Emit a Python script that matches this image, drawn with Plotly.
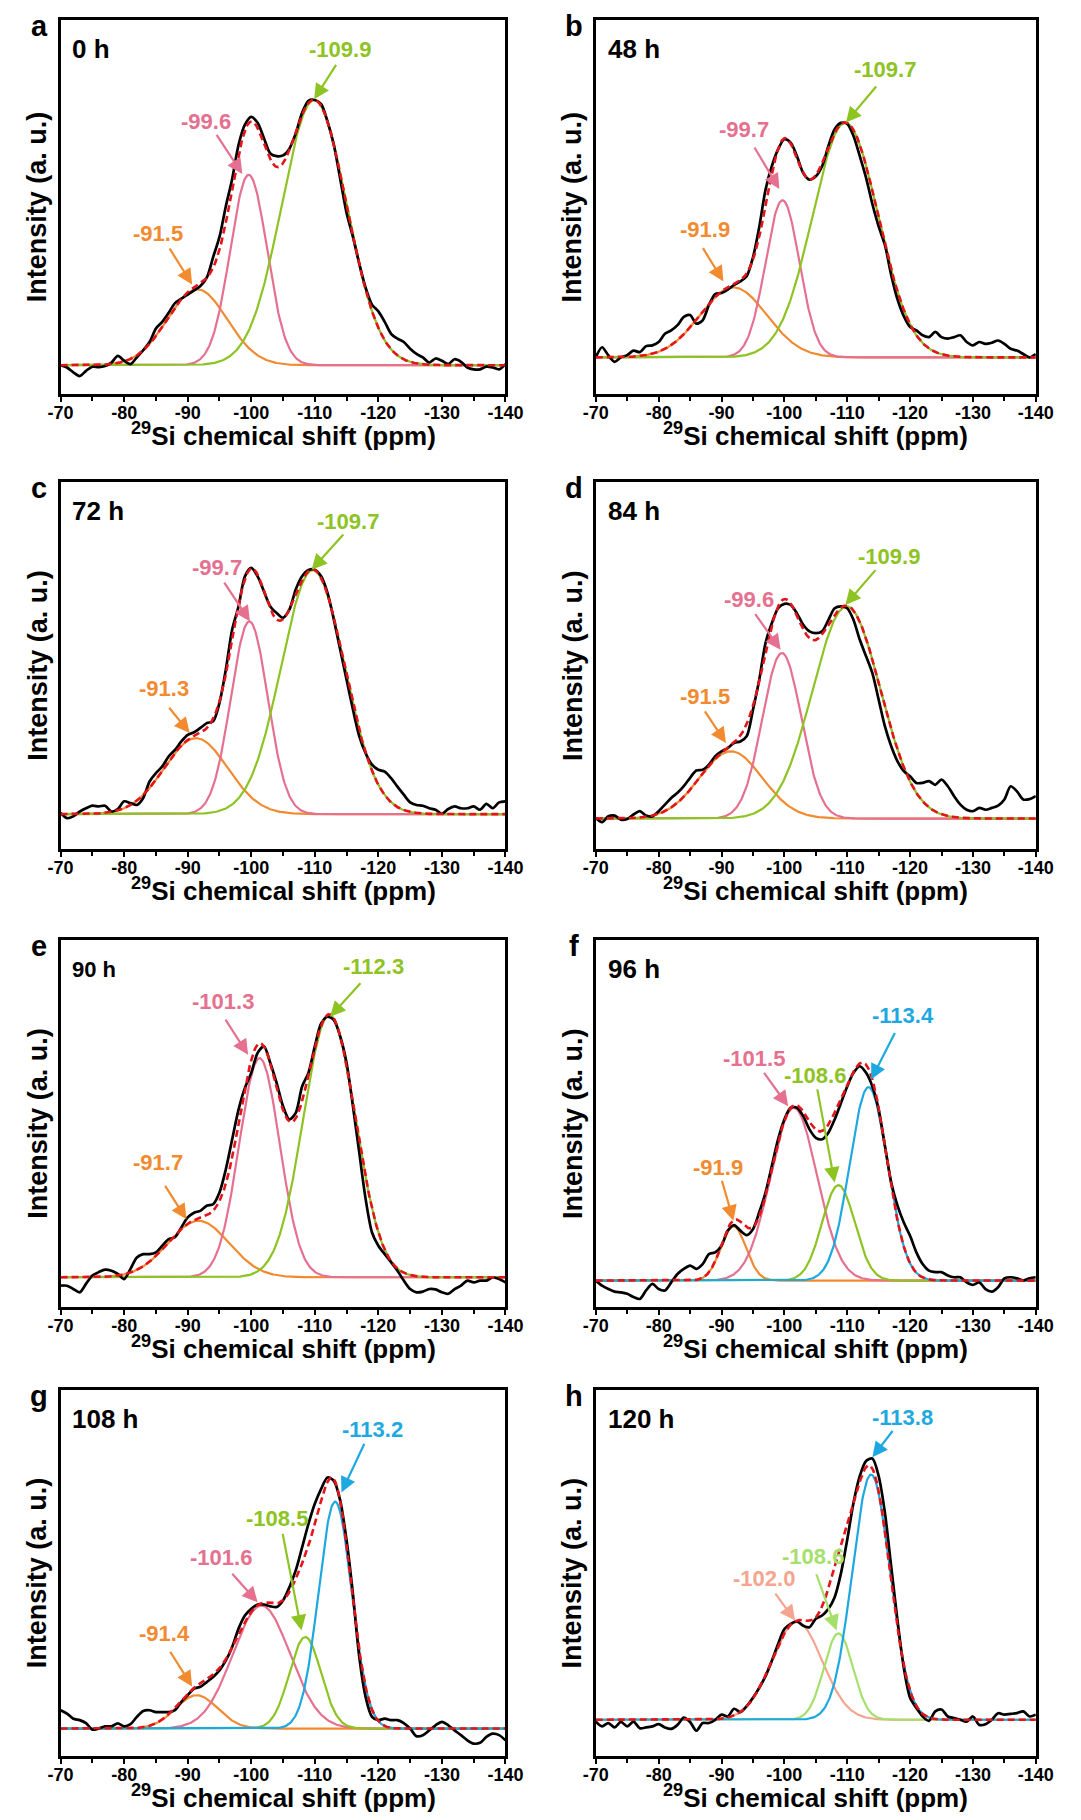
import numpy as np
import plotly.graph_objects as go

# ---------------- data ----------------
PPM = list(range(-70, -141, -1))          # experimental sampling (ppm)
TICK_VALS = [-70, -80, -90, -100, -110, -120, -130, -140]
TICK_TEXT = ["-70", "-80", "-90", "-100", "-110", "-120", "-130", "-140"]
MINOR_TICKS = [-75, -85, -95, -105, -115, -125, -135]

PANEL_LETTERS = ["a", "b", "c", "d", "e", "f", "g", "h"]
TIMES = ["0 h", "48 h", "72 h", "84 h", "90 h", "96 h", "108 h", "120 h"]

EXP_A = [0, -0.6, -1.9, -2.9, -1.5, -0.4, -0.5, -0.2, 0.7, 2.5,
         1.2, 0.3, 2.1, 4.0, 6.2, 9.8, 11.6, 14.0, 16.6, 17.8,
         18.9, 20.0, 21.2, 23.4, 28.9, 34.3, 42.5, 49.8, 58.9, 64.3,
         66.4, 64.8, 60.7, 56.6, 55.9, 56.1, 57.9, 62.0, 67.5, 70.7,
         70.9, 69.8, 65.2, 58.9, 49.8, 40.7, 34.3, 27.1, 20.7, 16.2,
         14.4, 11.6, 8.4, 7.1, 6.2, 4.4, 3.0, 2.1, 0.7, 1.8,
         1.2, 0.3, 1.6, 0.9, -0.6, -1.1, -1.1, -0.4, -0.6, -1.1, 0.3]
EXP_B = [0, 2.7, 0.5, -1.2, 0, 0.6, 1.8, 1.4, 3.0, 3.2,
         4.1, 6.3, 7.2, 8.6, 10.8, 11.3, 9.0, 9.9, 14.0, 16.9,
         17.2, 18.1, 19.4, 20.3, 21.7, 26.7, 34.8, 44.8, 51.1, 55.6,
         58.3, 57.4, 53.8, 49.3, 47.5, 48.4, 51.1, 56.5, 61.0, 62.7,
         62.4, 59.2, 53.8, 48.0, 41.0, 35.0, 30.0, 22.0, 15.5, 11.0,
         8.1, 7.2, 5.9, 5.4, 6.8, 5.4, 5.0, 5.4, 5.9, 4.1,
         3.2, 4.1, 3.6, 3.9, 4.5, 3.6, 2.3, 1.8, 0.9, 0, 0.9]
EXP_C = [0.3, -1.1, -0.6, 0.7, 1.6, 2.3, 2.1, 2.3, 0.7, 1.4,
         3.5, 3.0, 2.5, 4.4, 8.9, 11.2, 13.0, 15.7, 17.5, 19.8,
         21.6, 22.3, 23.5, 24.8, 25.3, 30.3, 39.4, 50.3, 56.6, 64.8,
         67.1, 64.8, 60.7, 56.6, 54.8, 53.5, 55.7, 61.2, 64.8, 66.5,
         66.6, 64.8, 60.3, 53.0, 44.8, 36.6, 28.5, 21.2, 16.6, 13.5,
         12.1, 11.6, 9.8, 7.5, 5.3, 3.2, 2.5, 2.3, 1.6, 1.2,
         0.1, 1.4, 2.1, 1.6, 1.6, 2.1, 1.2, 2.8, 1.6, 3.2, 3.5]
EXP_D = [0.2, -1.0, 0.6, 0.8, -0.3, -0.1, 1.1, 2.0, 0.8, 0.6,
         2.0, 3.8, 5.6, 7.0, 8.8, 11.1, 13.1, 13.3, 14.7, 17.0,
         18.3, 19.2, 20.6, 21.0, 22.4, 29.6, 37.8, 47.8, 53.2, 57.3,
         58.5, 58.2, 55.9, 52.8, 51.0, 50.5, 51.0, 54.1, 57.3, 57.8,
         57.3, 54.1, 48.7, 44.2, 39.6, 32.4, 25.1, 19.7, 15.6, 12.9,
         11.5, 9.7, 9.7, 10.2, 9.2, 10.6, 8.8, 6.1, 3.8, 2.4,
         2.0, 2.9, 2.4, 2.9, 3.5, 5.2, 8.8, 7.4, 5.2, 5.3, 6.1]
EXP_E = [-2.3, -2.3, -3.2, -4.1, -1.8, 0.5, 1.4, 2.1, 1.8, 0.9,
         -0.5, 2.3, 5.4, 6.3, 6.3, 6.8, 8.6, 10.4, 10.9, 13.6,
         16.3, 17.6, 18.1, 19.5, 19.9, 23.1, 29.4, 37.6, 45.7, 51.6,
         55.7, 61.1, 62.9, 58.4, 52.9, 46.6, 43.0, 44.8, 52.0, 55.7,
         62.9, 69.2, 71.0, 70.1, 65.6, 58.4, 46.6, 33.9, 21.3, 12.2,
         8.6, 6.3, 4.1, 1.8, -0.9, -3.2, -4.1, -3.9, -3.2, -3.3,
         -4.1, -4.5, -3.2, -2.3, -0.9, -1.4, -0.9, -0.9, 0, -0.5, -1.4]
EXP_F = [0, -1.4, -2.3, -3.0, -3.2, -3.6, -4.5, -5.0, -2.7, -0.9,
         -2.3, -2.7, -0.5, 1.8, 3.2, 4.1, 3.2, 4.5, 7.2, 7.7,
         9.5, 13.6, 15.1, 13.6, 12.4, 14.0, 18.6, 24.0, 31.2, 38.5,
         43.9, 47.1, 47.1, 44.8, 41.2, 38.9, 38.5, 40.3, 43.9, 48.4,
         52.9, 56.6, 58.4, 56.6, 52.9, 46.6, 36.7, 26.7, 20.4, 15.8,
         12.2, 7.7, 4.5, 2.7, 2.3, 2.3, 1.4, 0.9, 0.9, -0.5,
         -1.2, -0.5, -2.3, -3.0, -1.8, 0.6, 0.9, 0.6, 0, 0.6, 0.9]
EXP_G = [5.0, 4.1, 2.7, 2.3, 1.5, -0.3, 0, 0.6, 0.6, 1.4,
         0.6, 1.2, 3.2, 4.8, 5.0, 4.5, 4.5, 4.5, 5.0, 7.3,
         9.1, 10.9, 11.4, 12.7, 14.1, 15.9, 18.6, 22.3, 27.3, 30.9,
         32.7, 33.9, 33.9, 33.4, 33.2, 35.0, 38.6, 43.2, 49.5, 55.9,
         61.4, 65.5, 68.6, 67.7, 62.3, 51.4, 36.8, 19.5, 8.6, 3.2,
         2.3, 2.7, 2.3, 2.3, 1.5, 0, -2.1, -1.8, -0.5, 0.9,
         1.8, 0.9, -0.5, -1.8, -3.2, -4.1, -3.9, -2.3, -1.4, -1.8, -3.2]
EXP_H = [-0.5, -1.8, -0.9, -2.1, -0.6, -1.8, -0.5, -2.3, -2.1, -1.8,
         -1.2, -2.1, -2.5, -1.4, 0.6, -0.6, -3.0, -0.9, -0.9, 0,
         1.4, 0.9, 3.0, 2.1, 3.7, 6.0, 8.7, 11.9, 16.1, 20.7,
         24.8, 26.2, 26.9, 25.7, 25.3, 27.6, 28.5, 30.3, 33.5, 40.0,
         49.2, 59.3, 66.6, 70.7, 71.4, 66.6, 56.5, 41.8, 27.1, 14.2,
         6.0, 3.2, 0.9, -0.3, 2.3, 2.8, 0.9, 0.5, 0, -0.5,
         0.9, -1.4, -1.2, 0, 1.8, 1.4, 1.6, 1.8, 2.3, 0.9, 1.4]

# fitted peak components: centre (ppm), height, gaussian width (ppm)
CENTERS_A = [-91.5, -99.6, -109.9]
HEIGHTS_A = [20.3, 50.9, 70.9]
WIDTHS_A = [4.7, 2.9, 5.1]
CENTERS_B = [-91.9, -99.7, -109.7]
HEIGHTS_B = [18.7, 42.0, 62.7]
WIDTHS_B = [5.3, 2.7, 5.2]
CENTERS_C = [-91.3, -99.7, -109.7]
HEIGHTS_C = [20.7, 52.5, 66.5]
WIDTHS_C = [5.0, 2.9, 5.0]
CENTERS_D = [-91.5, -99.6, -109.9]
HEIGHTS_D = [18.3, 45.1, 57.8]
WIDTHS_D = [5.0, 3.1, 5.4]
CENTERS_E = [-91.7, -101.3, -112.3]
HEIGHTS_E = [15.4, 59.7, 71.5]
WIDTHS_E = [4.8, 3.2, 4.1]
CENTERS_F = [-91.9, -101.5, -108.6, -113.4]
HEIGHTS_F = [14.8, 47.1, 26.0, 52.7]
WIDTHS_F = [2.0, 3.7, 2.6, 3.0]
CENTERS_G = [-91.4, -101.6, -108.5, -113.2]
HEIGHTS_G = [9.1, 33.6, 25.0, 62.0]
WIDTHS_G = [3.3, 4.5, 2.5, 2.6]
CENTERS_H = [-102.0, -108.6, -113.8]
HEIGHTS_H = [26.7, 23.6, 67.0]
WIDTHS_H = [4.0, 2.3, 3.0]

# ---------------- styles ----------------
ORANGE = "#F28A30"
PINK = "#E5708F"
GREEN = "#8DC322"
BLUE = "#1EA8E0"
RED = "#E3151B"
SALMON = "#F5A58F"
LIME = "#A6E06C"

COLORS_3 = [ORANGE, PINK, GREEN]
COLORS_4 = [ORANGE, PINK, GREEN, BLUE]
COLORS_H = [SALMON, LIME, BLUE]

FONT = "Liberation Sans, Arial, Helvetica, sans-serif"
W, H = 1081, 1820
COLS = [(49, 507), (600, 1053)]
ROWS = [(20, 394), (482, 849), (940, 1307), (1390, 1756)]
BASE_FRAC = [7.7, 9.8, 9.5, 8.3, 8.1, 7.2, 7.5, 9.9]
TIME_SIZE = [26, 26, 26, 26, 22, 26, 26, 26]

# label placement: (text x, text y, arrow tail x, tail y, tip x, tip y)
LABEL_POS = [
    [(-85.3, 35.2, -87.0, 31.6, -90.7, 21.6), (-92.9, 65.2, -94.4, 62.0, -98.6, 51.1),
     (-114.0, 84.5, -113.5, 80.7, -109.9, 71.1)],
    [(-87.4, 34.1, -86.9, 29.6, -90.3, 20.3), (-93.5, 61.0, -95.1, 56.5, -99.2, 45.0),
     (-116.0, 76.9, -114.8, 72.8, -109.8, 62.8)],
    [(-86.2, 34.1, -86.9, 29.4, -90.3, 22.1), (-94.6, 67.1, -95.6, 63.5, -99.8, 52.5),
     (-115.2, 79.8, -114.7, 76.6, -109.5, 66.6)],
    [(-87.4, 33.3, -87.2, 29.6, -90.7, 20.6), (-94.3, 59.6, -95.2, 56.1, -99.4, 46.0),
     (-116.6, 71.5, -114.7, 68.1, -109.7, 58.2)],
    [(-85.3, 31.4, -86.3, 25.3, -89.8, 15.8), (-95.5, 75.1, -95.8, 70.6, -99.5, 60.6),
     (-119.2, 84.8, -117.4, 80.5, -112.4, 71.0)],
    [(-89.5, 30.8, -90.0, 27.6, -91.9, 16.3), (-95.2, 60.4, -96.6, 57.0, -100.6, 47.5),
     (-104.8, 55.9, -105.2, 52.5, -108.0, 26.7), (-118.8, 72.1, -117.7, 67.9, -113.8, 54.8)],
    [(-86.3, 25.9, -87.1, 21.4, -90.7, 11.5), (-95.3, 46.6, -96.8, 42.7, -101.0, 34.5),
     (-104.1, 57.3, -104.9, 53.6, -107.9, 26.8), (-119.0, 81.8, -117.9, 78.2, -114.2, 64.5)],
    [(-96.8, 38.6, -98.4, 34.9, -101.7, 27.1), (-104.6, 44.6, -105.0, 40.2, -108.3, 24.4),
     (-118.8, 82.7, -117.4, 79.3, -114.0, 71.7)],
]

PANELS = [
    (EXP_A, CENTERS_A, HEIGHTS_A, WIDTHS_A, COLORS_3),
    (EXP_B, CENTERS_B, HEIGHTS_B, WIDTHS_B, COLORS_3),
    (EXP_C, CENTERS_C, HEIGHTS_C, WIDTHS_C, COLORS_3),
    (EXP_D, CENTERS_D, HEIGHTS_D, WIDTHS_D, COLORS_3),
    (EXP_E, CENTERS_E, HEIGHTS_E, WIDTHS_E, COLORS_3),
    (EXP_F, CENTERS_F, HEIGHTS_F, WIDTHS_F, COLORS_4),
    (EXP_G, CENTERS_G, HEIGHTS_G, WIDTHS_G, COLORS_4),
    (EXP_H, CENTERS_H, HEIGHTS_H, WIDTHS_H, COLORS_H),
]

XS = np.linspace(-70, -140, 561)


def px(x):
    return x / W


def py(y):
    return 1 - y / H


fig = go.Figure()
annotations = []
layout_axes = {}

for i, (exp, cen, hei, wid, cols) in enumerate(PANELS):
    n = i + 1
    sfx = "" if n == 1 else str(n)
    xr, yr = "x" + sfx, "y" + sfx
    col = COLS[i % 2]
    row = ROWS[i // 2]

    comps = [h * np.exp(-((XS - c) ** 2) / (2 * w ** 2)) for c, h, w in zip(cen, hei, wid)]
    for comp, c in zip(comps, cols):
        fig.add_trace(go.Scatter(x=XS, y=comp, mode="lines", xaxis=xr, yaxis=yr,
                                 line=dict(color=c, width=2.2), showlegend=False,
                                 hoverinfo="skip"))
    fig.add_trace(go.Scatter(x=PPM, y=exp, mode="lines", xaxis=xr, yaxis=yr,
                             line=dict(color="black", width=2.7, shape="spline", smoothing=0.8),
                             showlegend=False))
    fig.add_trace(go.Scatter(x=XS, y=np.sum(comps, axis=0), mode="lines", xaxis=xr, yaxis=yr,
                             line=dict(color=RED, width=2.6, dash="7px,4px"),
                             showlegend=False, hoverinfo="skip"))

    bf = BASE_FRAC[i]
    layout_axes["xaxis" + sfx] = dict(
        domain=[px(col[0]), px(col[1])], anchor=yr, range=[-70, -140],
        tickmode="array", tickvals=TICK_VALS,
        ticktext=["<b>" + t + "</b>" for t in TICK_TEXT],
        ticks="outside", ticklen=5, tickwidth=2, tickcolor="black",
        ticklabelstandoff=-4,
        minor=dict(tickmode="array", tickvals=MINOR_TICKS, ticks="outside",
                   ticklen=4, tickwidth=2, tickcolor="black", showgrid=False),
        showline=True, linecolor="black", linewidth=2.5, mirror=True,
        showgrid=False, zeroline=False,
        tickfont=dict(family=FONT, size=18, color="black"),
    )
    layout_axes["yaxis" + sfx] = dict(
        domain=[py(row[1]), py(row[0])], anchor=xr, range=[-bf, 100 - bf],
        showticklabels=False, ticks="", showline=True, linecolor="black",
        linewidth=2.5, mirror=True, showgrid=False, zeroline=False,
    )

    # axis titles
    annotations.append(dict(
        x=px((col[0] + col[1]) / 2), y=py(row[1] + 40), xref="paper", yref="paper",
        text="<b><sup>29</sup>Si chemical shift (ppm)</b>", showarrow=False,
        xanchor="center", yanchor="middle",
        font=dict(family=FONT, size=26, color="black")))
    annotations.append(dict(
        x=px(col[0] - 24), y=py((row[0] + row[1]) / 2), xref="paper", yref="paper",
        text="<b>Intensity (a. u.)</b>", showarrow=False, textangle=-90,
        xanchor="center", yanchor="middle",
        font=dict(family=FONT, size=27, color="black")))
    # panel letter
    annotations.append(dict(
        x=px(col[0] - 22), y=py(row[0] + 6), xref="paper", yref="paper",
        text="<b>" + PANEL_LETTERS[i] + "</b>", showarrow=False,
        xanchor="center", yanchor="middle",
        font=dict(family=FONT, size=29, color="black")))
    # time label
    annotations.append(dict(
        x=px(col[0] + 10), y=py(row[0] + 29), xref="paper", yref="paper",
        text="<b>" + TIMES[i] + "</b>", showarrow=False,
        xanchor="left", yanchor="middle",
        font=dict(family=FONT, size=TIME_SIZE[i], color="black")))
    # peak labels and arrows
    for (tx, ty, ax, ay, x, y), c, ctr in zip(LABEL_POS[i], cols, cen):
        annotations.append(dict(
            x=tx, y=ty, xref=xr, yref=yr, text="<b>%.1f</b>" % ctr, showarrow=False,
            xanchor="center", yanchor="middle",
            font=dict(family=FONT, size=22, color=c)))
        annotations.append(dict(
            x=x, y=y, ax=ax, ay=ay, xref=xr, yref=yr, axref=xr, ayref=yr,
            text="", showarrow=True, arrowhead=2, arrowsize=1.4, arrowwidth=2.2,
            arrowcolor=c, standoff=0, startstandoff=0))

fig.update_layout(
    width=W, height=H, margin=dict(l=0, r=0, t=0, b=0),
    paper_bgcolor="white", plot_bgcolor="white",
    showlegend=False, annotations=annotations, **layout_axes,
)

fig.write_html("out.html")
